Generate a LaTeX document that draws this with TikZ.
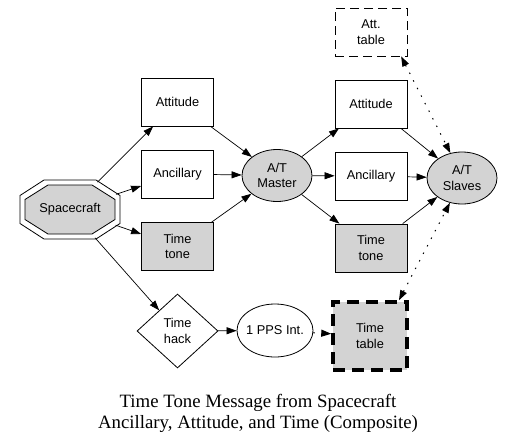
\documentclass[tikz,border=0pt]{standalone}
\usepackage{fontspec}
\setmainfont{Liberation Serif}
\newfontfamily\boxfam{Liberation Sans}
\usetikzlibrary{shapes.geometric,arrows.meta}
\definecolor{lgray}{HTML}{D3D3D3}
\newcommand{\boxfont}{\boxfam\fontsize{12.8}{15.5}\selectfont}
\newcommand{\capfont}{\rmfamily\fontsize{18.8}{21}\selectfont}
\tikzset{
  base/.style={draw, line width=0.8pt, font=\boxfont, align=center, inner sep=0pt},
  box/.style={base, rectangle, minimum width=72pt, minimum height=48pt},
  gbox/.style={box, fill=lgray},
  oval/.style={base, ellipse, fill=lgray, minimum width=70pt, minimum height=52pt},
  arr/.style={-{Triangle[length=10pt,width=7pt]}, line width=0.7pt},
  dotline/.style={line width=1pt, dash pattern=on 1.5pt off 7pt},
  bothdot/.style={dotline, {Triangle[length=10pt,width=7pt]}-{Triangle[length=10pt,width=7pt]}},
  onedot/.style={dotline, -{Triangle[length=10pt,width=7pt]}}
}
\begin{document}
\begin{tikzpicture}[x=1pt,y=-1pt]
\useasboundingbox (0,0) rectangle (516,447);
% Spacecraft double octagon
\begin{scope}[shift={(70,209.5)}]
  \draw[line width=0.8pt, fill=white] (-26,-29.5) -- (26,-29.5) -- (50,-14) -- (50,14) -- (26,29.5) -- (-26,29.5) -- (-50,14) -- (-50,-14) -- cycle;
  \draw[line width=0.8pt, fill=lgray] (-22,-24.5) -- (22,-24.5) -- (45,-10) -- (45,10) -- (22,24.5) -- (-22,24.5) -- (-45,10) -- (-45,-10) -- cycle;
\end{scope}
\node[ellipse, inner sep=0pt, minimum width=104pt, minimum height=64pt, font=\boxfont] (sc) at (70,209.5) {Spacecraft};

\node[box] (attL) at (177.5,102) {Attitude};
\node[box] (ancL) at (177.5,174) {Ancillary};
\node[gbox] (ttL) at (177.5,246.5) {Time\\tone};

\node[oval] (master) at (277,175.5) {A/T\\Master};

\node[box] (attR) at (371,104) {Attitude};
\node[box] (ancR) at (371,176) {Ancillary};
\node[gbox] (ttR) at (371,248) {Time\\tone};

\node[box, dash pattern=on 9pt off 5pt] (atttab) at (371,32) {Att.\\table};

\node[oval] (slaves) at (462,178) {A/T\\Slaves};

\node[base, diamond, minimum width=81pt, minimum height=74pt] (hack) at (177.5,331) {Time\\hack};
\node[base, ellipse, inner xsep=-2pt, minimum width=76pt, minimum height=53pt] (pps) at (275,330.5) {1 PPS Int.};
\node[box, fill=lgray, line width=3.5pt, dash pattern=on 12pt off 7pt, minimum width=74pt, minimum height=68pt] (timetab) at (370,336) {Time\\table};

% edges
\draw[arr] (sc) -- (attL);
\draw[arr] (sc) -- (ancL);
\draw[arr] (sc) -- (ttL);
\draw[arr] (sc) -- (hack);
\draw[arr] (attL) -- (master);
\draw[arr] (ancL) -- (master);
\draw[arr] (ttL) -- (master);
\draw[arr] (master) -- (attR);
\draw[arr] (master) -- (ancR);
\draw[arr] (master) -- (ttR);
\draw[arr] (attR) -- (slaves);
\draw[arr] (ancR) -- (slaves);
\draw[arr] (ttR) -- (slaves);
\draw[arr] (hack) -- (pps);
\draw[onedot] (pps) -- (timetab);
\draw[bothdot] (atttab.-39.6) -- (slaves.115);
\draw[bothdot] (timetab.51.5) -- (slaves.244);

\node[font=\capfont, align=center, inner sep=0pt] (cap) at (258,413.3) {Time Tone Message from Spacecraft\\Ancillary, Attitude, and Time (Composite)};
\end{tikzpicture}
\end{document}
